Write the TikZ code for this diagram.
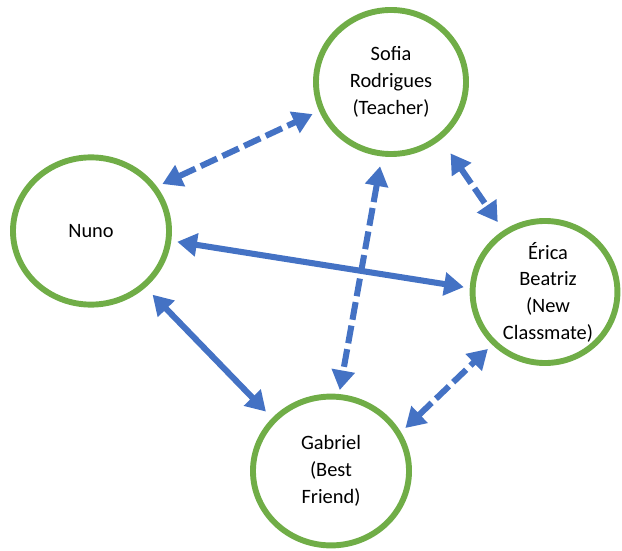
\documentclass[tikz,border=0pt]{standalone}
\usepackage{fontspec}
\setmainfont{Carlito}
\usepackage{tikz}
\usetikzlibrary{arrows.meta,shapes.geometric}
\definecolor{ring}{HTML}{70AD47}
\definecolor{link}{HTML}{4472C4}

\begin{document}
\begin{tikzpicture}[
    x=0.025cm, y=-0.025cm,
    person/.style={ellipse, draw=ring, line width=4.2pt, inner sep=0pt, align=center, font=\fontsize{14.5}{19}\selectfont},
    tie/.style={draw=link, line width=4.3pt, {Triangle[length=14pt,width=16pt]}-{Triangle[length=14pt,width=16pt]}, shorten <=0.15cm, shorten >=0.15cm},
    loose/.style={tie, dash pattern=on 12.75pt off 4.25pt}
]
    \useasboundingbox (0,0) rectangle (622,550);
    \node[person, minimum width=3.75cm, minimum height=3.6cm] (sofia) at (391,82) {Sofia\\Rodrigues\\(Teacher)};
    \node[person, minimum width=3.9cm, minimum height=3.68cm] (nuno) at (91,231) {Nuno};
    \node[person, minimum width=3.62cm, minimum height=3.55cm] (erica) at (545,292) {\hspace*{0.15cm}Érica\\\hspace*{0.15cm}Beatriz\\\hspace*{0.15cm}(New\\\hspace*{0.15cm}Classmate)};
    \node[person, minimum width=3.9cm, minimum height=3.72cm] (gabriel) at (331,471) {Gabriel\\(Best\\Friend)};

    \draw[loose, shorten >=0.18cm] (nuno.34) -- (sofia.202);
    \draw[tie] (nuno.-7) -- (erica.177);
    \draw[loose, shorten <=0.25cm, shorten >=0.1cm] (sofia.263) -- (gabriel.84);
    \draw[loose, shorten <=0.42cm, shorten >=0.25cm] (sofia.-49) -- (erica.124);
    \draw[tie, shorten <=0.25cm, shorten >=0.22cm] (nuno.-46) -- (gabriel.138);
    \draw[loose] (gabriel.29) -- (erica.225);
\end{tikzpicture}
\end{document}
